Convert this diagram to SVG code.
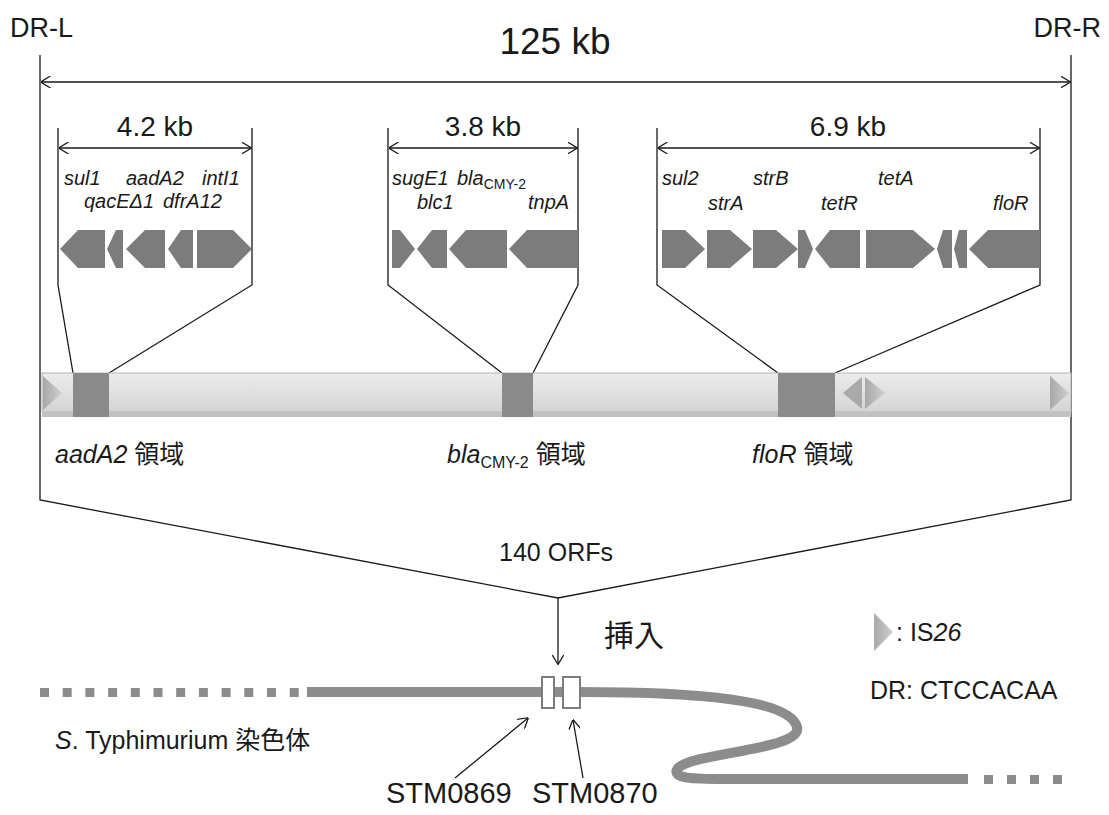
<svg xmlns="http://www.w3.org/2000/svg" width="1109" height="815" viewBox="0 0 1109 815">
<style>
.t{font-family:"Liberation Sans",Arial,"Noto Sans CJK JP",sans-serif;fill:#1a1a1a}
.i{font-style:italic}
.ln{stroke:#1a1a1a;stroke-width:1.3;fill:none}
.gene{fill:#7c7c7c}
.box{fill:#8a8a8a}
.sq{fill:#8c8c8c}
.chr{stroke:#8c8c8c;stroke-width:10;fill:none}
</style>
<defs>
<marker id="arr" viewBox="0 0 10 12" refX="9.5" refY="6" markerWidth="10" markerHeight="12" orient="auto-start-reverse" markerUnits="userSpaceOnUse">
<path d="M0,0 L10,6 L0,12" fill="none" stroke="#1a1a1a" stroke-width="1.3"/>
</marker>
<linearGradient id="barg" x1="0" y1="0" x2="0" y2="1">
<stop offset="0" stop-color="#ececec"/>
<stop offset="1" stop-color="#d4d4d4"/>
</linearGradient>
<linearGradient id="isg" x1="0" y1="0" x2="1" y2="0">
<stop offset="0" stop-color="#a8a8a8"/>
<stop offset="1" stop-color="#cfcfcf"/>
</linearGradient>
</defs>

<g id="connectors">
<path class="ln" d="M40,55 V500 L558,598 L1071,500 V55"/>
<line class="ln" x1="41" y1="82" x2="1070" y2="82" marker-start="url(#arr)" marker-end="url(#arr)"/>
<path class="ln" d="M58,128 V285 L73,373 M252,128 V285 L109,373"/>
<line class="ln" x1="59" y1="148" x2="251" y2="148" marker-start="url(#arr)" marker-end="url(#arr)"/>
<path class="ln" d="M388,128 V285 L502,373 M578,128 V285 L533,373"/>
<line class="ln" x1="389" y1="148" x2="577" y2="148" marker-start="url(#arr)" marker-end="url(#arr)"/>
<path class="ln" d="M657,128 V285 L778,373 M1040,128 V285 L835,373"/>
<line class="ln" x1="658" y1="148" x2="1039" y2="148" marker-start="url(#arr)" marker-end="url(#arr)"/>
<line class="ln" x1="558" y1="598" x2="558" y2="664" marker-end="url(#arr)"/>
<line class="ln" x1="455" y1="778" x2="528" y2="718" marker-end="url(#arr)"/>
<line class="ln" x1="583" y1="778" x2="573" y2="720" marker-end="url(#arr)"/>
</g>

<g id="titles">
<text class="t" x="10" y="37" font-size="27">DR-L</text>
<text class="t" x="1101" y="37" font-size="27" text-anchor="end">DR-R</text>
<text class="t" x="555" y="54" font-size="37" text-anchor="middle">125 kb</text>
<text class="t" x="155" y="136" font-size="28" text-anchor="middle">4.2 kb</text>
<text class="t" x="483" y="136" font-size="28" text-anchor="middle">3.8 kb</text>
<text class="t" x="848" y="136" font-size="28" text-anchor="middle">6.9 kb</text>
</g>

<g id="aadA2-cluster">
<g class="t i" font-size="20">
<text x="64" y="185">sul1</text>
<text x="126" y="185">aadA2</text>
<text x="202" y="185">intI1</text>
<text x="84" y="208">qacEΔ1</text>
<text x="163" y="208">dfrA12</text>
</g>
<polygon class="gene" points="60,249 78,230 105,230 105,268 78,268"/>
<polygon class="gene" points="107,249 116,230 123,230 123,268 116,268"/>
<polygon class="gene" points="126,249 145,230 165,230 165,268 145,268"/>
<polygon class="gene" points="168,249 181,230 193,230 193,268 181,268"/>
<polygon class="gene" points="197,230 233,230 252,249 233,268 197,268"/>
</g>

<g id="bla-cluster">
<g class="t" font-size="20">
<text class="i" x="392" y="185">sugE1</text>
<text x="457" y="185"><tspan class="i">bla</tspan><tspan font-size="14" dy="4">CMY-2</tspan></text>
<text class="i" x="417" y="209">blc1</text>
<text class="i" x="528" y="209">tnpA</text>
</g>
<polygon class="gene" points="392,230 400,230 415,249 400,268 392,268"/>
<polygon class="gene" points="417,249 432,230 447,230 447,268 432,268"/>
<polygon class="gene" points="449,249 466,230 507,230 507,268 466,268"/>
<polygon class="gene" points="509,249 527,230 578,230 578,268 527,268"/>
</g>

<g id="floR-cluster">
<g class="t i" font-size="20">
<text x="662" y="185">sul2</text>
<text x="753" y="185">strB</text>
<text x="878" y="185">tetA</text>
<text x="708" y="210">strA</text>
<text x="821" y="210">tetR</text>
<text x="993" y="210">floR</text>
</g>
<polygon class="gene" points="662,230 685,230 705,249 685,268 662,268"/>
<polygon class="gene" points="707,230 730,230 752,249 730,268 707,268"/>
<polygon class="gene" points="753,230 776,230 798,249 776,268 753,268"/>
<polygon class="gene" points="798,230 805,230 813,249 805,268 798,268"/>
<polygon class="gene" points="815,249 830,230 860,230 860,268 830,268"/>
<polygon class="gene" points="866,230 913,230 935,249 913,268 866,268"/>
<polygon class="gene" points="937,249 943,230 952,230 952,268 943,268"/>
<polygon class="gene" points="954,249 959,230 967,230 967,268 959,268"/>
<polygon class="gene" points="969,249 988,230 1040,230 1040,268 988,268"/>
</g>

<g id="element-bar">
<rect x="42" y="373" width="1029" height="39" fill="url(#barg)" stroke="#b4b4b4" stroke-width="1"/>
<rect x="42" y="412" width="1029" height="5" fill="#c2c2c2"/>
<polygon points="43,376 62,393 43,410" fill="url(#isg)"/>
<polygon points="843,393 862,377 862,409" fill="#a9a9a9"/>
<polygon points="865,377 885,393 865,409" fill="url(#isg)"/>
<polygon points="1050,376 1069,393 1050,410" fill="url(#isg)"/>
<rect class="box" x="73" y="373" width="36" height="44"/>
<rect class="box" x="502" y="373" width="31" height="44"/>
<rect class="box" x="778" y="373" width="57" height="44"/>
</g>

<g id="region-labels" class="t" font-size="25">
<text x="55" y="463"><tspan class="i">aadA2</tspan> 領域</text>
<text x="447" y="463"><tspan class="i">bla</tspan><tspan font-size="16" dy="5">CMY-2</tspan><tspan dy="-5"> 領域</tspan></text>
<text x="752" y="463"><tspan class="i">floR</tspan> 領域</text>
</g>

<g id="orfs">
<text class="t" x="556" y="561" font-size="25" text-anchor="middle">140 ORFs</text>
<text class="t" x="604" y="646" font-size="30">挿入</text>
</g>

<g id="legend">
<polygon points="874,613 893,632 874,651" fill="url(#isg)"/>
<text class="t" x="896" y="641" font-size="25">: IS<tspan class="i">26</tspan></text>
<text class="t" x="870" y="699" font-size="25">DR: CTCCACAA</text>
</g>

<g id="chromosome">
<g class="sq">
<rect x="40" y="688" width="9" height="9"/>
<rect x="62.7" y="688" width="9" height="9"/>
<rect x="85.4" y="688" width="9" height="9"/>
<rect x="108.1" y="688" width="9" height="9"/>
<rect x="130.8" y="688" width="9" height="9"/>
<rect x="153.5" y="688" width="9" height="9"/>
<rect x="176.2" y="688" width="9" height="9"/>
<rect x="198.9" y="688" width="9" height="9"/>
<rect x="221.6" y="688" width="9" height="9"/>
<rect x="244.3" y="688" width="9" height="9"/>
<rect x="267" y="688" width="9" height="9"/>
<rect x="289.7" y="688" width="9" height="9"/>
<rect x="984" y="775" width="9" height="9"/>
<rect x="1007" y="775" width="9" height="9"/>
<rect x="1030" y="775" width="9" height="9"/>
<rect x="1053" y="775" width="9" height="9"/>
</g>
<path class="chr" d="M307,692 H563"/>
<path class="chr" d="M578,692 C700,692 790,700 797,727 C803,750 695,752 678,768 C670,779 695,779 725,779 L968,779"/>
<rect x="542" y="677" width="12" height="31" fill="#fff" stroke="#7c7c7c" stroke-width="2"/>
<rect x="563" y="677" width="17" height="31" fill="#fff" stroke="#7c7c7c" stroke-width="2"/>
<text class="t" x="55" y="749" font-size="25"><tspan class="i">S</tspan>. Typhimurium 染色体</text>
<text class="t" x="386" y="803" font-size="29">STM0869</text>
<text class="t" x="532" y="803" font-size="29">STM0870</text>
</g>
</svg>
